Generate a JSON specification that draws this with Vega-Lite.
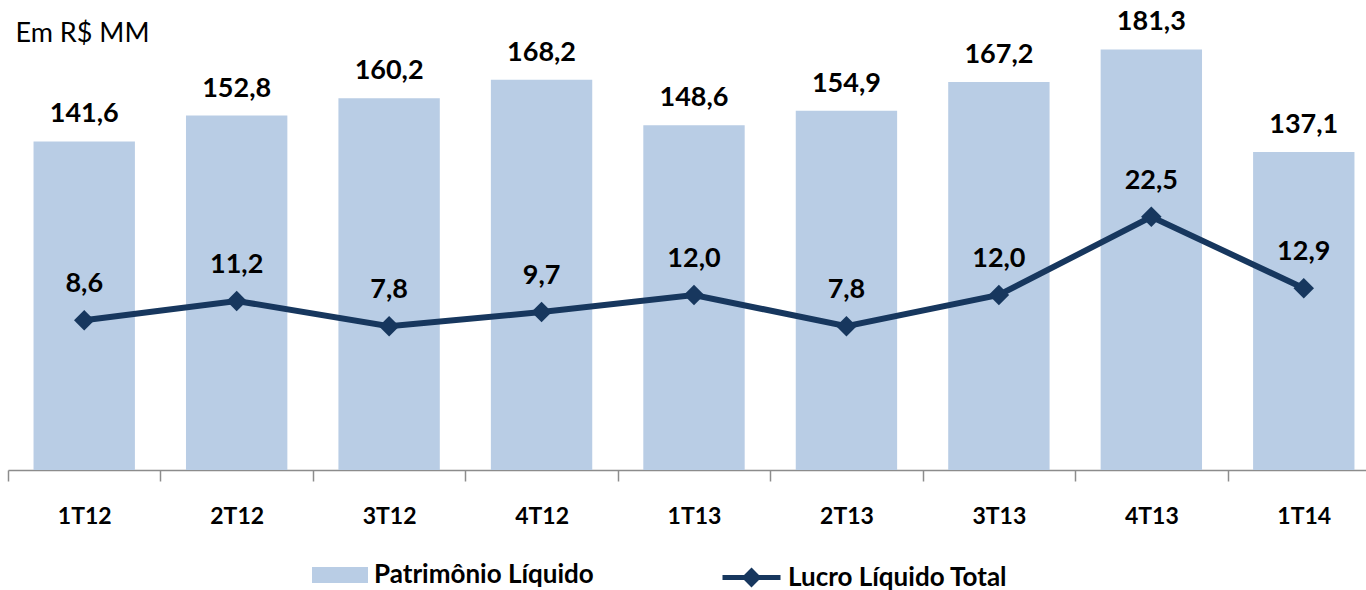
{
  "$schema": "https://vega.github.io/schema/vega-lite/v6.json",
  "width": 1372,
  "height": 464,
  "autosize": {"type": "none"},
  "padding": {"left": 8, "top": 6, "right": 0, "bottom": 120},
  "data": {"values": [
    {"tri": "1T12", "pl": 141.6, "lucro": 8.6},
    {"tri": "2T12", "pl": 152.8, "lucro": 11.2},
    {"tri": "3T12", "pl": 160.2, "lucro": 7.8},
    {"tri": "4T12", "pl": 168.2, "lucro": 9.7},
    {"tri": "1T13", "pl": 148.6, "lucro": 12.0},
    {"tri": "2T13", "pl": 154.9, "lucro": 7.8},
    {"tri": "3T13", "pl": 167.2, "lucro": 12.0},
    {"tri": "4T13", "pl": 181.3, "lucro": 22.5},
    {"tri": "1T14", "pl": 137.1, "lucro": 12.9}
  ]},
  "encoding": {
    "x": {"field": "tri", "type": "nominal", "sort": null,
      "scale": {"paddingInner": 0, "paddingOuter": 0},
      "axis": {"title": null, "labelAngle": 0, "grid": false, "tickBand": "extent",
        "domainColor": "#8C8C8C", "domainWidth": 1.5, "tickColor": "#8C8C8C", "tickWidth": 1.5, "tickSize": 11,
        "labelFont": "Lato", "labelFontSize": 23, "labelFontWeight": "bold", "labelColor": "#000000", "labelPadding": 24}}
  },
  "layer": [
    {"layer": [
      {"mark": {"type": "bar", "width": {"band": 0.665}},
       "encoding": {
         "y": {"field": "pl", "type": "quantitative", "scale": {"domain": [0, 200], "nice": false},
           "axis": {"title": "Em R$ MM", "titleAngle": 0, "titleX": 7, "titleY": 35, "titleAlign": "left", "titleBaseline": "alphabetic",
             "titleFont": "Lato", "titleFontSize": 27, "titleFontWeight": "normal", "titleColor": "#000000",
             "labels": false, "ticks": false, "domain": false, "grid": false}},
         "fill": {"datum": "Patrimônio Líquido", "type": "nominal", "scale": {"range": ["#B9CDE5"]},
           "legend": {"title": null, "orient": "none", "legendX": 304, "legendY": 541, "padding": 0,
             "symbolType": "M-1,-0.2857H1V0.2857H-1Z", "symbolSize": 3136, "symbolStrokeWidth": 0,
             "labelFont": "Lato", "labelFontSize": 26, "labelFontWeight": "bold", "labelColor": "#000000", "labelOffset": 6, "labelLimit": 0}}}},
      {"mark": {"type": "text", "dy": -19, "baseline": "alphabetic", "font": "Lato", "fontSize": 27, "fontWeight": "bold", "color": "#000000"},
       "encoding": {
         "y": {"field": "pl", "type": "quantitative"},
         "text": {"field": "pl", "type": "quantitative", "format": ".1f"}}}
    ]},
    {"layer": [
      {"mark": {"type": "line", "strokeWidth": 6},
       "encoding": {
         "y": {"field": "lucro", "type": "quantitative", "scale": {"domain": [-11.5, 50.8], "nice": false, "zero": false}, "axis": null},
         "stroke": {"datum": "Lucro Líquido Total", "type": "nominal", "scale": {"range": ["#17375E"]},
           "legend": {"title": null, "orient": "none", "legendX": 712, "legendY": 540, "padding": 0,
             "symbolType": "M-1,0H1M0,-0.22L0.22,0L0,0.22L-0.22,0Z", "symbolSize": 3364, "symbolStrokeWidth": 5, "symbolFillColor": "#17375E",
             "labelFont": "Lato", "labelFontSize": 26, "labelFontWeight": "bold", "labelColor": "#000000", "labelOffset": 5, "labelLimit": 0,
             "encode": {"symbols": {"update": {"fill": {"value": "#17375E"}, "stroke": {"value": "#17375E"}}}}}}}},
      {"mark": {"type": "point", "shape": "diamond", "filled": true, "size": 420, "color": "#17375E", "opacity": 1},
       "encoding": {"y": {"field": "lucro", "type": "quantitative"}}},
      {"mark": {"type": "text", "dy": -28, "baseline": "alphabetic", "font": "Lato", "fontSize": 27, "fontWeight": "bold", "color": "#000000"},
       "encoding": {
         "y": {"field": "lucro", "type": "quantitative"},
         "text": {"field": "lucro", "type": "quantitative", "format": ".1f"}}}
    ]}
  ],
  "resolve": {"scale": {"y": "independent"}},
  "config": {
    "view": {"stroke": null},
    "locale": {"number": {"decimal": ",", "thousands": ".", "grouping": [3], "currency": ["R$ ", ""]}}
  }
}
